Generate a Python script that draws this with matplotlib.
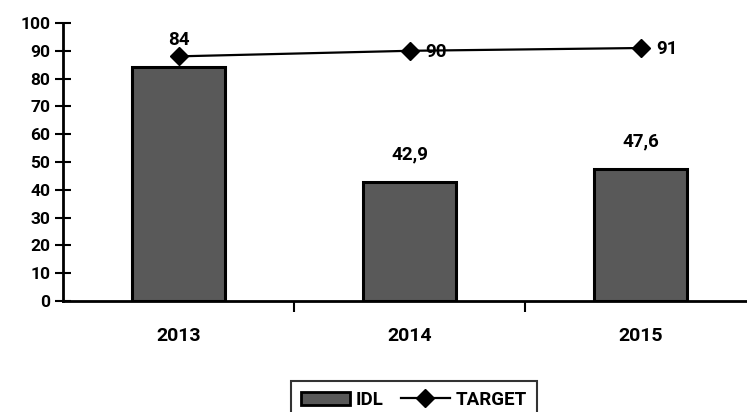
import matplotlib
matplotlib.use("Agg")
import matplotlib.pyplot as plt
from matplotlib.lines import Line2D
from matplotlib.patches import Patch

years = ["2013", "2014", "2015"]
idl = [84, 42.9, 47.6]
target = [88, 90, 91]
idl_labels = ["84", "42,9", "47,6"]
target_labels = ["", "90", "91"]
yticks = [0, 10, 20, 30, 40, 50, 60, 70, 80, 90, 100]

plt.rcParams["font.family"] = ["Roboto", "DejaVu Sans"]
plt.rcParams["font.weight"] = "bold"

W, H = 747, 412
fig = plt.figure(figsize=(W / 100, H / 100), dpi=100)
ax = fig.add_axes([63 / W, 111 / H, 693 / W, 278 / H])

x = list(range(len(years)))
ax.bar(x, idl, width=0.4, color="#595959", edgecolor="black",
       linewidth=2.2, label="IDL", zorder=2)
ax.plot(x, target, color="black", linewidth=1.6, marker="D", markersize=9,
        label="TARGET", zorder=3)

for xi, v, lab in zip(x, idl, idl_labels):
    ax.annotate(lab, (xi, v), xytext=(0, 27), textcoords="offset pixels",
                ha="center", va="center", fontsize=13.5, fontweight="bold")
for xi, v, lab in zip(x, target, target_labels):
    if lab:
        ax.annotate(lab, (xi, v), xytext=(16, -1), textcoords="offset pixels",
                    ha="left", va="center", fontsize=13.5, fontweight="bold")

ax.set_xlim(-0.5, 2.5)
ax.set_ylim(0, 100)
ax.set_yticks(yticks)
ax.set_yticklabels([str(t) for t in yticks], fontsize=12.5, fontweight="bold")

# category boundaries as tick marks, names centred below each group
ax.set_xticks([0.5, 1.5])
ax.set_xticklabels([])
ax.set_xticks(x, minor=True)
ax.set_xticklabels(years, minor=True, fontsize=14, fontweight="bold")
ax.tick_params(axis="x", which="major", direction="out", length=8, width=1.5)
ax.tick_params(axis="x", which="minor", length=0, pad=19)
ax.tick_params(axis="y", direction="inout", length=12, width=1.5, pad=3)

for s in ["top", "right"]:
    ax.spines[s].set_visible(False)
for s in ["left", "bottom"]:
    ax.spines[s].set_linewidth(2)
ax.spines["bottom"].set_zorder(4)

handles = [
    Patch(facecolor="#595959", edgecolor="black", linewidth=2, label="IDL"),
    Line2D([], [], color="black", linewidth=1.6, marker="D", markersize=9,
           label="TARGET"),
]
leg = fig.legend(handles=handles, loc="upper left",
                 bbox_to_anchor=(282 / W, (H - 372) / H),
                 ncol=2, frameon=True, fancybox=False,
                 handlelength=2.6, columnspacing=0.9, handletextpad=0.35,
                 borderpad=0.5, prop={"weight": "bold", "size": 13.5})
leg.get_frame().set_edgecolor("black")
leg.get_frame().set_linewidth(1.5)

fig.savefig("out.png", dpi=100)
